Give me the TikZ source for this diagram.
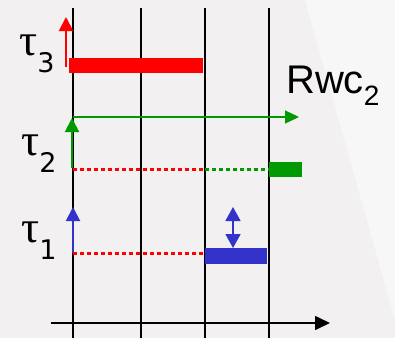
\documentclass[tikz,border=0pt]{standalone}
\usepackage{fontspec}
\setmainfont{Liberation Serif}
\newfontfamily\subfont{DejaVu Sans}
\newfontfamily\rwcfont{Liberation Sans}
\usetikzlibrary{arrows.meta,positioning}
\definecolor{SchRed}{HTML}{FF0000}
\definecolor{SchGreen}{HTML}{009900}
\definecolor{SchBlue}{HTML}{3333CC}
\definecolor{SchBack}{HTML}{F2F0F0}
\definecolor{SchLight}{HTML}{F8F7F7}
\newcommand{\tsk}[1]{{\fontsize{45}{46}\selectfont τ}\raisebox{-17pt}{\subfont\fontsize{27}{30}\selectfont #1}}

\begin{document}
\begin{tikzpicture}[x=1pt,y=-1pt,
    grid/.style={black,line width=1.6pt},
    rel/.style={line width=2pt,-{Triangle[length=14pt,width=14pt]}},
    dots/.style={line width=3pt,dash pattern=on 4pt off 3pt},
    bar/.style={inner sep=0pt,outer sep=0pt,anchor=north west,minimum height=15pt},
    lbl/.style={inner sep=0pt,anchor=base west}
  ]
    \useasboundingbox (0,0) rectangle (395,338);
    \fill[SchBack] (0,0) rectangle (395,338);
    \fill[SchLight] (305,0) -- (395,0) -- (395,320) -- cycle;
    % time grid
    \foreach \x/\n in {73/0,141/1,205/2,269/3}
      \draw[grid] (\x,8) coordinate (t\n) -- (\x,338) coordinate (b\n);
    \coordinate (o) at (51,323); \coordinate (e) at (330,323);
    \draw[grid,-{Triangle[length=15pt,width=14pt]}] (o) -- (e);
    % task 3
    \node[lbl] (tau3) at (19,55) {\tsk{3}};
    \coordinate (r3) at (66,67); \coordinate (a3) at (66,17);
    \draw[rel,SchRed] (r3) -- (a3);
    \node[bar,fill=SchRed,minimum width=134pt] (job3) at (69,58) {};
    % task 2
    \node[lbl] (tau2) at (21,155) {\tsk{2}};
    \coordinate (r2) at (72,168); \coordinate (a2) at (72,118);
    \coordinate (s2) at (73,117); \coordinate (w2) at (299,117);
    \draw[rel,SchGreen] (r2) -- (a2);
    \draw[SchGreen,line width=1.4pt,-{Triangle[length=14pt,width=13pt]}] (s2) -- (w2);
    \coordinate (d2) at (73,169); \coordinate (m2) at (205,169); \coordinate (f2) at (269,169);
    \draw[dots,SchRed] (d2) -- (m2);
    \draw[dots,SchGreen] (m2) -- (f2);
    \node[bar,fill=SchGreen,minimum width=33pt] (job2) at (269,162) {};
    \node[lbl,font=\rwcfont\fontsize{40}{44}\selectfont] (rwc) at (286,93) {Rwc\raisebox{-12pt}{\fontsize{28}{30}\selectfont 2}};
    % task 1
    \node[lbl] (tau1) at (21,242) {\tsk{1}};
    \coordinate (r1) at (73,253); \coordinate (a1) at (73,207);
    \draw[rel,SchBlue] (r1) -- (a1);
    \coordinate (m1) at (205,253);
    \draw[dots,SchRed] (r1) -- (m1);
    \node[bar,fill=SchBlue,minimum width=62pt,minimum height=16pt] (job1) at (205,248) {};
    \coordinate (j1) at (233,207);
    \draw[SchBlue,line width=1.8pt,{Triangle[length=14pt,width=15pt]}-{Triangle[length=14pt,width=15pt]}] (j1) -- (j1 |- job1.north);
\end{tikzpicture}
\end{document}
